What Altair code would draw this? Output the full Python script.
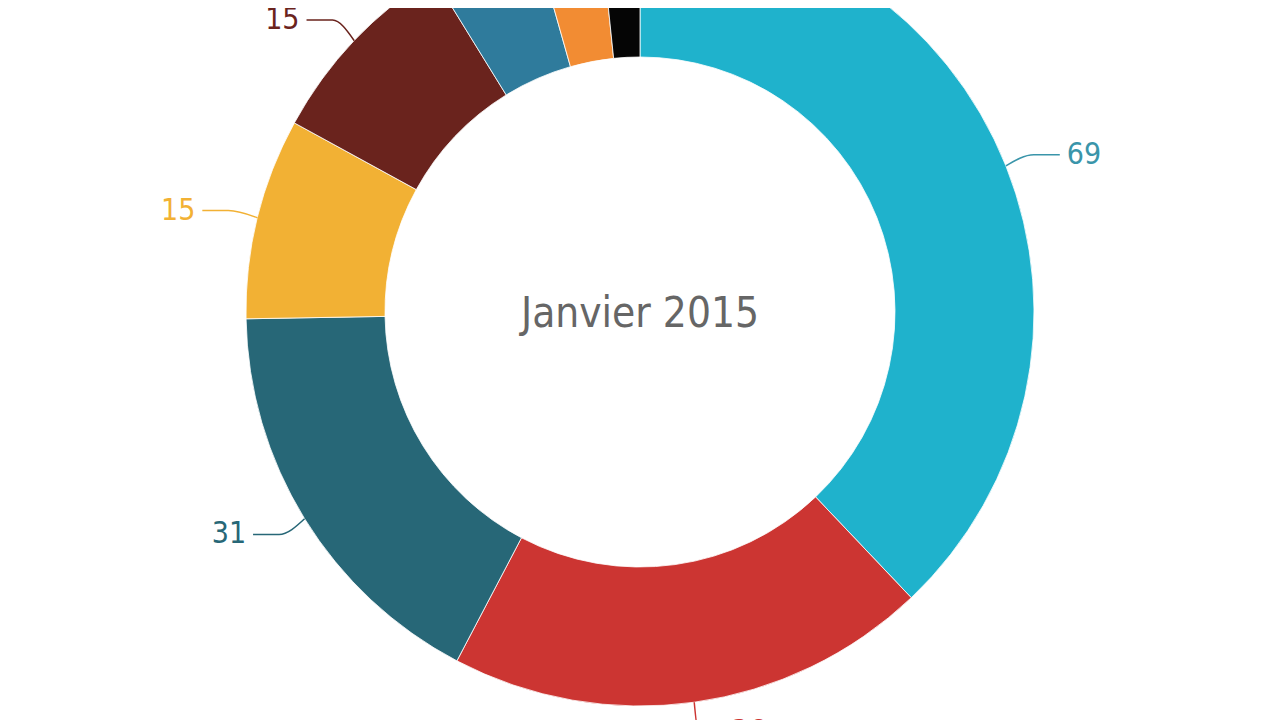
import altair as alt
import pandas as pd

categories = ["Catégorie 1", "Catégorie 2", "Catégorie 3", "Catégorie 4",
              "Catégorie 5", "Catégorie 6", "Catégorie 7", "Catégorie 8"]
values = [69, 36, 31, 15, 15, 8, 5, 3]
slice_colors = ["#1FB2CC", "#CC3532", "#276777", "#F2B134",
                "#6A231D", "#2F7B9C", "#F28C33", "#050505"]
label_colors = ["#3A95AA", "#CC3532", "#276777", "#F2B134",
                "#6A231D", "#2F7B9C", "#F28C33", "#050505"]
center_title = "Janvier 2015"

FONT = "DejaVu Sans Condensed, Liberation Sans Narrow, sans-serif"
W, H = 1264, 712
CX, CY = 632, 304
R_OUT, R_IN = 394, 255

df = pd.DataFrame({
    "cat": categories,
    "value": values,
    "order": list(range(len(values))),
    "color": slice_colors,
    "lcolor": label_colors,
})

base = alt.Chart(df)

arcs = base.mark_arc(outerRadius=R_OUT, innerRadius=R_IN, stroke="white", strokeWidth=0.8).encode(
    theta=alt.Theta("value:Q", stack=True),
    order=alt.Order("order:Q"),
    color=alt.Color("color:N", scale=None),
    x=alt.value(CX),
    y=alt.value(CY),
)

xs = alt.Scale(domain=[-CX, W - CX])
ys = alt.Scale(domain=[CY - H, CY])

geo = (
    base.transform_joinaggregate(total="sum(value)")
    .transform_window(cum="sum(value)", sort=[alt.SortField("order")], frame=[None, 0])
    .transform_calculate(mid="2*PI*(datum.cum - datum.value/2)/datum.total")
    .transform_calculate(side="sin(datum.mid) >= 0 ? 1 : -1")
    .transform_calculate(pts="[0, 1, 2]")
    .transform_flatten(["pts"], as_=["pt"])
    .transform_calculate(r=f"datum.pt == 0 ? {R_OUT} : {R_OUT + 30}")
    .transform_calculate(
        px="sin(datum.mid)*datum.r + (datum.pt == 2 ? datum.side*26 : 0)",
        py="cos(datum.mid)*datum.r",
    )
)

connectors = geo.mark_line(strokeWidth=1.5, interpolate="monotone").encode(
    x=alt.X("px:Q", scale=xs, axis=None),
    y=alt.Y("py:Q", scale=ys, axis=None),
    detail="cat:N",
    order=alt.Order("pt:Q"),
    color=alt.Color("lcolor:N", scale=None),
)

lab = geo.transform_filter("datum.pt == 2").transform_calculate(
    tx="datum.px + datum.side*7"
)

labels_right = lab.transform_filter("datum.side > 0").mark_text(
    align="left", baseline="middle", font=FONT, fontSize=30
).encode(
    x=alt.X("tx:Q", scale=xs, axis=None),
    y=alt.Y("py:Q", scale=ys, axis=None),
    text="value:Q",
    color=alt.Color("lcolor:N", scale=None),
)

labels_left = lab.transform_filter("datum.side < 0").mark_text(
    align="right", baseline="middle", font=FONT, fontSize=30
).encode(
    x=alt.X("tx:Q", scale=xs, axis=None),
    y=alt.Y("py:Q", scale=ys, axis=None),
    text="value:Q",
    color=alt.Color("lcolor:N", scale=None),
)

center = alt.Chart(pd.DataFrame({"t": [center_title]})).mark_text(
    align="center", baseline="middle", font=FONT, fontSize=42, color="#666666", dy=2
).encode(
    text="t:N",
    x=alt.value(CX),
    y=alt.value(CY),
)

chart = alt.layer(arcs, connectors, labels_right, labels_left, center).properties(
    width=W, height=H, autosize="none", padding=0, background="white"
).configure_view(stroke=None)

chart.save("out.html", embed_options={"renderer": "svg", "actions": False})
